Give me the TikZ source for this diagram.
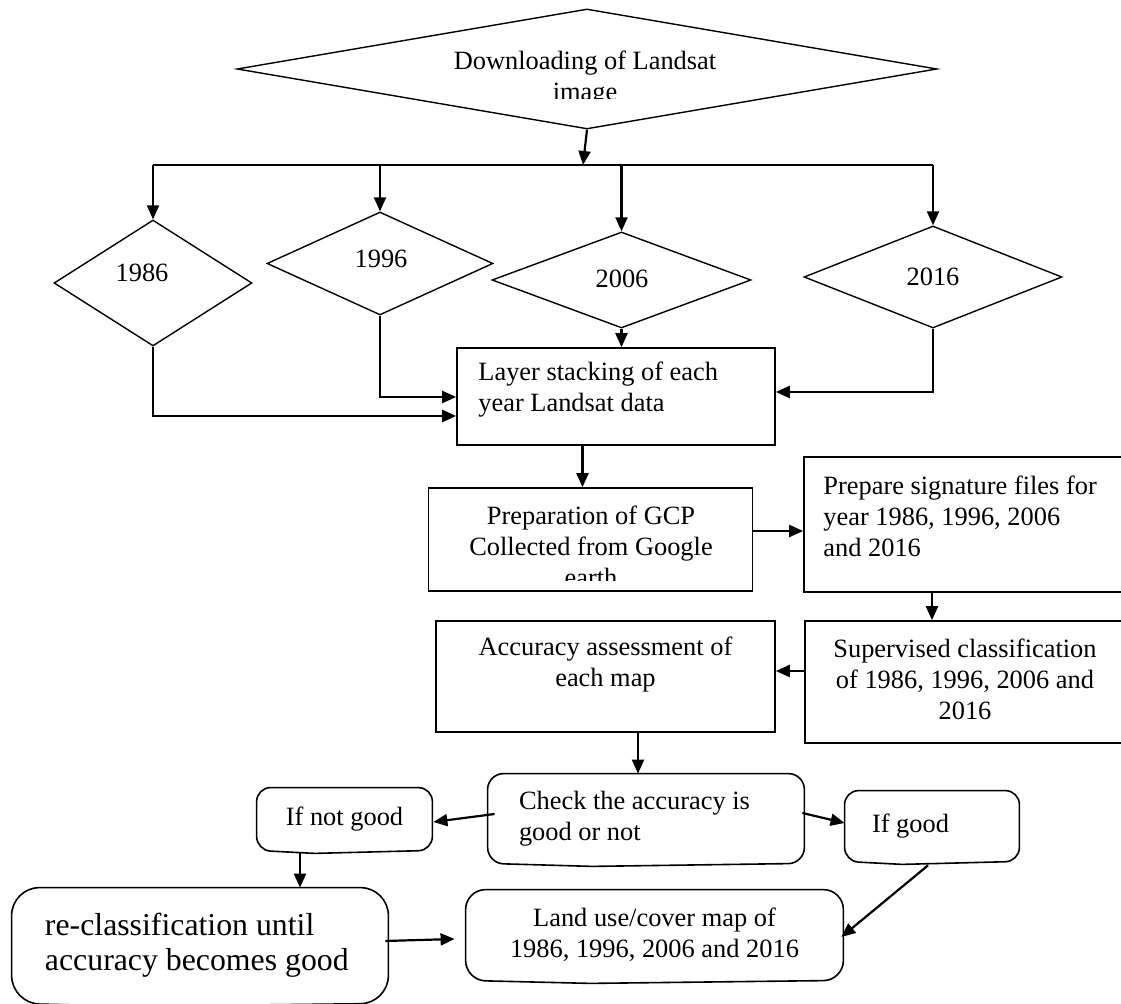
\documentclass[tikz,border=0pt]{standalone}
\usepackage{fontspec}
\setmainfont{Liberation Serif}
\usetikzlibrary{arrows.meta,shapes.geometric,calc}

% rounded box with a small dip in its lower edge
\newcommand{\drawcall}[2]{%
  \draw[line width=0.8pt, rounded corners=#2pt]
    ($(#1.south west)!0.33!(#1.south east)+(0,3)$) -- (#1.south west) -- (#1.north west)
    -- (#1.north east) -- (#1.south east) -- ($(#1.south west)!0.33!(#1.south east)+(0,3)$);}

\begin{document}
\begin{tikzpicture}[x=0.5pt,y=-0.5pt]
\tikzstyle {dia}=[diamond, draw=black, line width=0.7pt, inner sep=0pt]
\tikzstyle {sq}=[rectangle, draw=black, line width=0.8pt, inner sep=0pt]
\tikzstyle {txt}=[inner sep=0pt, font=\fontsize{13.2}{15.5}\selectfont, align=center]
\tikzstyle {call}=[txt, rectangle, align=flush left]
\tikzstyle {arr}=[-{Triangle[length=7pt,width=6pt]}, line width=1.1pt]
\tikzstyle {ln}=[line width=1.1pt]
\useasboundingbox (0,0) rectangle (1121,1004);

% download and the four years
\node (dl) [dia, minimum width=350pt, minimum height=60pt] at (587,69) {};
\begin{scope}
\clip (300,20) rectangle (880,99);
\node (dltxt) [txt] at (585,79) {Downloading of Landsat\\image};
\end{scope}
\node (y86) [dia, minimum width=99pt, minimum height=63pt] at (153,283) {};
\node (y96) [dia, minimum width=113pt, minimum height=51.5pt] at (380,263.5) {};
\node (y06) [dia, minimum width=129.5pt, minimum height=48pt] at (621.5,280) {};
\node (y16) [dia, minimum width=129pt, minimum height=51pt] at (933,277) {};
\node (t86) [txt] at (142,273) {1986};
\node (t96) [txt] at (381,259) {1996};
\node (t06) [txt] at (622,279) {2006};
\node (t16) [txt] at (933,277) {2016};
\coordinate (split) at (583,165);

% processing boxes
\node (stack) [sq, minimum width=159pt, minimum height=48.5pt] at (616,396.5) {};
\node (stacktxt) [txt, anchor=west, align=left] at (478,390) {Layer stacking of each\\year Landsat data};
\node (gcp) [sq, minimum width=162pt, minimum height=51.5pt] at (590.5,539.5) {};
\begin{scope}
\clip (430,490) rectangle (751,581);
\node (gcptxt) [txt] at (591,546) {Preparation of GCP\\Collected from Google\\earth};
\end{scope}
\node (sig) [sq, minimum width=160.5pt, minimum height=67.5pt] at (964.5,524.5) {};
\node (sigtxt) [txt, anchor=west, align=left] at (823,516) {Prepare signature files for\\year 1986, 1996, 2006\\and 2016};
\node (sup) [sq, minimum width=160pt, minimum height=61pt] at (965,682) {};
\node (suptxt) [txt] at (965,679) {Supervised classification\\of 1986, 1996, 2006 and\\2016};
\node (acc) [sq, minimum width=169.5pt, minimum height=55.5pt] at (605.5,676.5) {};
\node (acctxt) [txt] at (605.5,664.5) {Accuracy assessment of\\each map};

% check and results
\node (chk) [call, minimum width=158pt, minimum height=44.5pt, text width=127pt] at (646,818.5) {Check the accuracy is\\good or not};
\node (bad) [call, minimum width=87.5pt, minimum height=31pt, align=center] at (344.5,819) {If not good};
\node (good) [call, minimum width=87pt, minimum height=35pt, text width=60pt] at (932,826) {If good};
\node (recl) [call, minimum width=188pt, minimum height=57.5pt, text width=155pt, font=\fontsize{15.9}{17.5}\selectfont] at (200,945.5) {re-classification until\\accuracy becomes good};
\node (lulc) [call, minimum width=188.5pt, minimum height=45pt, align=center] at (654.5,935) {Land use/cover map of\\1986, 1996, 2006 and 2016};
\foreach \n/\r in {chk/8,bad/7,good/7,recl/14,lulc/10}
  \drawcall{\n}{\r};

% connectors
\draw[arr] (dl.south) -- (split);
\draw[ln] (y86.north |- split) -- (y16.north |- split);
\foreach \y in {y86,y96,y06,y16}
  \draw[arr] (\y.north |- split) -- (\y.north);
\draw[arr] (y86.south) |- ($(stack.west)+(0,19.5)$);
\draw[arr] (y96.south) |- ($(stack.west)+(0,0.5)$);
\draw[arr] (y06.south) -- (y06.south |- stack.north);
\draw[arr] (y16.south) |- ($(stack.east)+(0,-4.5)$);
\draw[arr] ($(gcp.north |- stack.south)+(-8,0)$) -- ($(gcp.north)+(-8,0)$);
\draw[arr] ($(gcp.east)+(0,-8.5)$) -- ($(gcp.east -| sig.west)+(0,-8.5)$);
\draw[arr] ($(sig.south)+(-32.5,0)$) -- ($(sup.north)+(-33,0)$);
\draw[arr] ($(sup.west)+(0,-11)$) -- ($(sup.west -| acc.east)+(0,-11)$);
\draw[arr] ($(chk.north |- acc.south)+(-8,0)$) -- ($(chk.north)+(-8,0)$);
\draw[arr] ($(chk.west)+(7,-4.5)$) -- ($(bad.east)+(1,3)$);
\draw[arr] ($(chk.east)+(-2,-5.5)$) -- ($(good.west)+(0,-3)$);
\draw[arr] ($(bad.south)+(-44.5,3)$) -- ($(recl.north)+(100,0)$);
\draw[arr] ($(recl.east)+(-3,-4.5)$) -- ($(lulc.west)+(-11,4)$);
\draw[arr] ($(good.south)+(-4,4)$) -- ($(lulc.east)+(-2,2)$);
\end{tikzpicture}
\end{document}
